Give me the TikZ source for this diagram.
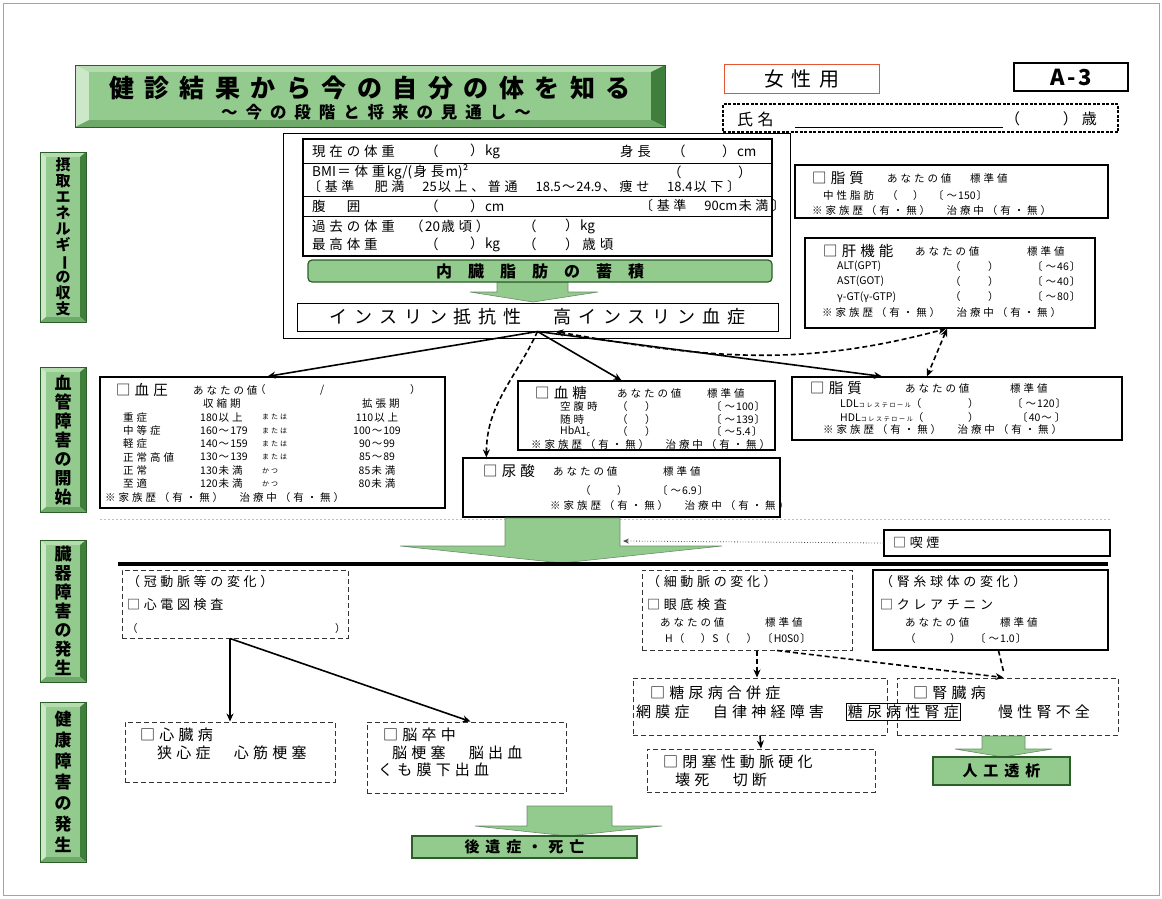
\documentclass[tikz,border=0pt]{standalone}
\usepackage{fontspec}
\usepackage{graphicx}
\setmainfont{Noto Sans CJK JP}
\usetikzlibrary{arrows.meta,fit,positioning}

% 和文字の間だけ字間をあける
\XeTeXinterchartokenstate=1
\chardef\cjkcls=7
\newcount\cjkcnt
\def\setcjk#1#2{\cjkcnt=#1\relax
  \loop\XeTeXcharclass\cjkcnt=\cjkcls\relax\advance\cjkcnt by 1\relax
  \ifnum\cjkcnt<#2\repeat}
\setcjk{"3000}{"3100}
\setcjk{"4E00}{"A000}
\setcjk{"FF01}{"FF61}
\XeTeXcharclass"25A1=\cjkcls
\XeTeXcharclass"203B=\cjkcls
\def\cjksp{0.28}
\XeTeXinterchartoks\cjkcls\cjkcls={\hskip\cjksp em\relax}
\XeTeXinterchartoks\cjkcls 0={\hskip0.1em\relax}
\XeTeXinterchartoks 0\cjkcls={\hskip0.1em\relax}

\definecolor{gfill}{HTML}{93CB8E}
\definecolor{gtop}{HTML}{B4DCAE}
\definecolor{glight}{HTML}{CDE8C8}
\definecolor{gmid}{HTML}{6FA96A}
\definecolor{gdark}{HTML}{3F7F3B}
\definecolor{gedge}{HTML}{2C5E2A}
\definecolor{femred}{HTML}{E4572E}

\newcommand{\famhist}{※家族歴（有・無）　治療中（有・無）}
\newcommand{\chol}{{\fontsize{6}{6}\selectfont コレステロール}}
\newcommand{\hba}{HbA1\raisebox{-2pt}{\fontsize{7}{7}\selectfont c}}

% 立体の緑の札
\newcommand{\bevel}[6]{%
  \fill[glight] (#1,#2) -- (#1+#5,#2+#6) -- (#1+#5,#4-#6) -- (#1,#4) -- cycle;
  \fill[gtop] (#1,#2) -- (#3,#2) -- (#3-#5,#2+#6) -- (#1+#5,#2+#6) -- cycle;
  \fill[gdark] (#3,#2) -- (#3,#4) -- (#3-#5,#4-#6) -- (#3-#5,#2+#6) -- cycle;
  \fill[gmid] (#1,#4) -- (#3,#4) -- (#3-#5,#4-#6) -- (#1+#5,#4-#6) -- cycle;
  \fill[gfill] (#1+#5,#2+#6) rectangle (#3-#5,#4-#6);
  \draw[gedge, line width=0.8pt] (#1,#2) rectangle (#3,#4);
}

\tikzset{
  box/.style={draw, line width=1pt, inner sep=0pt},
  dbox/.style={draw=black!80, line width=1pt, dash pattern=on 5pt off 3pt, inner sep=0pt},
  gbox/.style={draw=gedge, fill=gfill, line width=1.2pt, inner sep=0pt},
  t/.style={anchor=west, inner sep=0pt, font=\fontsize{10.5}{12}\selectfont},
  tc/.style={t, anchor=center},
  ts/.style={t, font=\fontsize{7}{8}\selectfont},
  tm/.style={t, font=\fontsize{13}{15}\selectfont},
  th/.style={t, font=\fontsize{14.5}{16}\selectfont},
  tb/.style={t, font=\fontsize{13.5}{15}\selectfont},
  tl/.style={t, font=\fontsize{15}{17}\selectfont},
  vlab/.style={align=center, inner sep=0pt},
  arr/.style={line width=1.6pt, -{Stealth[length=8pt,width=7pt]}},
  darr/.style={arr, dash pattern=on 5pt off 3pt},
  ddarr/.style={darr, {Stealth[length=8pt,width=7pt]}-{Stealth[length=8pt,width=7pt]}},
  dotarr/.style={black!70, line width=0.8pt, dotted, -{Stealth[length=6pt,width=5pt]}},
  garrow/.style={fill=gfill, draw=gedge!70, line width=0.6pt},
}

\begin{document}
\begin{tikzpicture}[x=1pt,y=-1pt]
\useasboundingbox (0,0) rectangle (1162,898);

% 外枠
\draw[gedge!50, line width=1pt] (3,3) rectangle (1159,895);

% タイトル
\bevel{75}{65}{665}{127}{14}{7}
\node[font=\def\cjksp{0.42}\fontsize{25}{28}\selectfont\bfseries] (ttl) at (370,88) {健診結果から今の自分の体を知る};
\node[font=\def\cjksp{0.48}\fontsize{16.5}{18}\selectfont\bfseries] (sub) at (376,112) {～今の段階と将来の見通し～};

% 右上の札
\node[draw=femred, line width=1.3pt, minimum width=155pt, minimum height=29pt, font=\def\cjksp{0.4}\fontsize{20}{22}\selectfont] (fem) at (802,79) {女性用};
\node[draw, line width=1.4pt, minimum width=114pt, minimum height=28pt, font=\fontsize{22}{24}\selectfont\bfseries\addfontfeature{LetterSpace=12}] (aid) at (1071,77) {A-3};
\node[draw, line width=2.5pt, dash pattern=on 3pt off 1.5pt, inner sep=0pt, fit={(723,104) (1118,132)}] (nm) {};
\node[t, font=\fontsize{16}{18}\selectfont] (nmA) at (737,119) {氏名};
\draw[line width=0.8pt] (795,127) -- (1003,127);
\node[t, font=\fontsize{15}{18}\selectfont] (nmB) at (1005,119) {（　　）歳};

% 左の見出し
\bevel{40}{152}{86}{322}{6}{5}
\bevel{40}{367}{86}{512}{6}{5}
\bevel{40}{540}{86}{682}{6}{5}
\bevel{40}{702}{86}{862}{6}{5}
\node[vlab, font=\fontsize{15}{16}\selectfont\bfseries] (secA) at (63,237) {摂\\取\\エ\\ネ\\ル\\ギ\\\rotatebox[origin=c]{-90}{ー}\\の\\収\\支};
\node[vlab, font=\fontsize{17}{19}\selectfont\bfseries] (secB) at (63,440) {血\\管\\障\\害\\の\\開\\始};
\node[vlab, font=\fontsize{17}{19}\selectfont\bfseries] (secC) at (63,611) {臓\\器\\障\\害\\の\\発\\生};
\node[vlab, font=\fontsize{17}{21}\selectfont\bfseries] (secD) at (63,782) {健\\康\\障\\害\\の\\発\\生};

% 体重・BMI
\node[box, line width=0.8pt, fit={(283,133) (790,338)}] (bmi) {};
\node[box, line width=2.6pt, fit={(303,139) (772,256)}] (body) {};
\foreach \yy in {163,196,216} \draw[line width=1pt] (303,\yy) -- (772,\yy);
\node[tb] (b1a) at (312,151) {現在の体重};
\node[tb] (b1b) at (425,151) {（};
\node[tb] (b1c) at (470,151) {）kg};
\node[tb] (b1d) at (620,151) {身長};
\node[tb] (b1e) at (672,151) {（};
\node[tb] (b1f) at (722,151) {）cm};
\node[tb] (b2a) at (312,172) {BMI＝体重kg/(身長m)²};
\node[tb] (b2b) at (668,172) {（};
\node[tb] (b2c) at (738,172) {）};
\node[t, font=\fontsize{13}{14}\selectfont] (b2d) at (308,187) {〔基準　肥満　25以上、普通　18.5～24.9、痩せ　18.4以下〕};
\node[tb] (b3a) at (312,206) {腹　囲};
\node[tb] (b3b) at (425,206) {（};
\node[tb] (b3c) at (470,206) {）cm};
\node[t, font=\fontsize{13}{14}\selectfont] (b3d) at (640,206) {〔基準　90cm未満〕};
\node[tb] (b4a) at (312,226) {過去の体重};
\node[tb] (b4b) at (410,226) {（20歳頃）};
\node[tb] (b4c) at (523,226) {（};
\node[tb] (b4d) at (565,226) {）kg};
\node[tb] (b5a) at (312,244) {最高体重};
\node[tb] (b5b) at (425,244) {（};
\node[tb] (b5c) at (470,244) {）kg};
\node[tb] (b5d) at (523,244) {（};
\node[tb] (b5e) at (565,244) {）歳頃};

\fill[garrow] (497,282) -- (568,282) -- (568,292) -- (598,292) -- (533,302) -- (470,292) -- (497,292) -- cycle;
\node[gbox, rounded corners=4pt, fit={(308,260) (772,282)}] (fat) {};
\node[font=\def\cjksp{1.0}\fontsize{16}{18}\selectfont\bfseries] (fatT) at (fat.center) {内臓脂肪の蓄積};
\node[box, fit={(297,303) (778,331)}] (ins) {};
\node[font=\def\cjksp{0.38}\fontsize{18}{20}\selectfont] (insT) at (ins.center) {インスリン抵抗性　高インスリン血症};

% 脂質（中性脂肪）
\node[box, line width=1.5pt, fit={(795,165) (1108,218)}] (lipA) {};
\node[th] (laH) at (812,178) {□脂質};
\node[t] (laV) at (887,178) {あなたの値};
\node[t] (laS) at (970,178) {標準値};
\node[t] (la1) at (823,196) {中性脂肪};
\node[t] (la2) at (887,196) {（};
\node[t] (la3) at (913,196) {）};
\node[t] (la4) at (933,196) {〔～150〕};
\node[t] (la5) at (812,211) {\famhist};

% 肝機能
\node[box, line width=1.5pt, fit={(805,238) (1095,328)}] (liv) {};
\node[th] (lvH) at (823,251) {□肝機能};
\node[t] (lvV) at (915,251) {あなたの値};
\node[t] (lvS) at (1027,251) {標準値};
\foreach \lab/\std [count=\i] in {ALT(GPT)/〔～46〕, AST(GOT)/〔～40〕, γ-GT(γ-GTP)/〔～80〕}{
  \pgfmathsetmacro{\yy}{251+15.3*\i}
  \node[t] (lvL\i) at (837,\yy) {\lab};
  \node[t] (lvA\i) at (950,\yy) {（};
  \node[t] (lvB\i) at (988,\yy) {）};
  \node[t] (lvC\i) at (1032,\yy) {\std};
}
\node[t] (lvF) at (822,313) {\famhist};

% 血圧
\node[box, line width=1.2pt, fit={(100,377) (445,508)}] (bp) {};
\node[th] (bpH) at (116,390) {□血圧};
\node[t] (bpV) at (193,390) {あなたの値};
\node[t] (bpA) at (255,390) {（};
\node[t] (bpB) at (320,390) {/};
\node[t] (bpC) at (410,390) {）};
\node[t] (bpS) at (203,404) {収縮期};
\node[t] (bpD) at (362,404) {拡張期};
\foreach \lab/\sys/\cj/\dia [count=\i] in {重症/180以上/または/110以上, 中等症/160～179/または/100～109, 軽症/140～159/または/90～99, 正常高値/130～139/または/85～89, 正常/130未満/かつ/85未満, 至適/120未満/かつ/80未満}{
  \pgfmathsetmacro{\yy}{404+13.3*\i}
  \node[t] (bpL\i) at (123,\yy) {\lab};
  \node[t] (bpN\i) at (200,\yy) {\sys};
  \node[ts] (bpJ\i) at (262,\yy) {\cj};
  \node[tc] (bpR\i) at (377,\yy) {\dia};
}
\node[t] (bpF) at (105,497) {\famhist};

% 血糖
\node[box, line width=1.2pt, fit={(518,381) (775,450)}] (glu) {};
\node[th] (glH) at (535,393) {□血糖};
\node[t] (glV) at (617,393) {あなたの値};
\node[t] (glS) at (707,393) {標準値};
\foreach \lab/\std [count=\i] in {空腹時/〔～100〕, 随時/〔～139〕, \hba/〔～5.4〕}{
  \pgfmathsetmacro{\yy}{394+12.6*\i}
  \node[t] (glL\i) at (560,\yy) {\lab};
  \node[t] (glA\i) at (617,\yy) {（};
  \node[t] (glB\i) at (645,\yy) {）};
  \node[t] (glC\i) at (711,\yy) {\std};
}
\node[t] (glF) at (531,444) {\famhist};

% 尿酸
\node[box, line width=1.2pt, fit={(463,458) (780,517)}] (uric) {};
\node[th] (urH) at (483,471) {□尿酸};
\node[t] (urV) at (553,471) {あなたの値};
\node[t] (urS) at (663,471) {標準値};
\node[t] (urA) at (580,490) {（};
\node[t] (urB) at (617,490) {）};
\node[t] (urC) at (657,490) {〔～6.9〕};
\node[t] (urF) at (550,505) {\famhist};

% 脂質（コレステロール）
\node[box, line width=1.2pt, fit={(792,377) (1122,440)}] (lipB) {};
\node[th] (lbH) at (810,388) {□脂質};
\node[t] (lbV) at (905,388) {あなたの値};
\node[t] (lbS) at (1010,388) {標準値};
\node[t] (lb1) at (840,403) {LDL\chol（};
\node[t] (lb2) at (968,403) {）};
\node[t] (lb3) at (1012,403) {〔～120〕};
\node[t] (lb4) at (840,417) {HDL\chol（};
\node[t] (lb5) at (968,417) {）};
\node[t] (lb6) at (1017,417) {〔40～〕};
\node[t] (lbF) at (823,430) {\famhist};

% インスリンからの矢印
\draw[arr] (ins.south) -- ([xshift=-5pt]bp.north);
\draw[arr] (ins.south) -- ([xshift=-25pt]glu.north);
\draw[arr] (ins.south) -- ([xshift=-75pt]lipB.north);
\draw[darr] (ins.south) to[out=-115,in=90] ([xshift=24pt]uric.north west);
\draw[ddarr] ([xshift=18pt]ins.south) to[out=-10,in=-165] ([xshift=-4pt]liv.south);
\draw[ddarr] ([xshift=-3pt]liv.south) -- ([xshift=-30pt]lipB.north);

% 中段の大きな矢印
\draw[black!25, dash pattern=on 2pt off 2pt, line width=0.6pt] (100,519) -- (1110,519);
\fill[garrow] (505,518) -- (620,518) -- (620,546) -- (722,546) -- (562,563) -- (400,546) -- (505,546) -- cycle;
\coordinate (bigR) at (623,541);
\node[box, line width=1.2pt, fit={(884,530) (1110,556)}] (smk) {};
\node[tm] (smT) at (893,543) {□喫煙};
\draw[dotarr] (smk.west) -- (bigR);
\draw[line width=4pt] (118,564) -- (1108,564);

% 臓器障害
\node[dbox, fit={(122,570) (348,638)}] (cor) {};
\node[tm] (coA) at (127,582) {（冠動脈等の変化）};
\node[tm] (coB) at (127,605) {□心電図検査};
\node[t] (coC) at (127,628) {（};
\node[t] (coD) at (335,628) {）};

\node[dbox, fit={(642,570) (852,650)}] (sai) {};
\node[tm] (saA) at (647,582) {（細動脈の変化）};
\node[tm] (saB) at (647,605) {□眼底検査};
\node[t] (saC) at (660,622) {あなたの値};
\node[t] (saD) at (765,622) {標準値};
\node[t] (saE) at (665,638) {H（　）S（　）};
\node[t] (saF) at (762,638) {〔H0S0〕};

\node[box, line width=1.2pt, fit={(873,570) (1108,650)}] (kre) {};
\node[tm] (krA) at (880,582) {（腎糸球体の変化）};
\node[tm] (krB) at (880,605) {□クレアチニン};
\node[t] (krC) at (905,622) {あなたの値};
\node[t] (krD) at (1000,622) {標準値};
\node[t] (krE) at (905,638) {（};
\node[t] (krF) at (950,638) {）};
\node[t] (krG) at (975,638) {〔～1.0〕};

% 健康障害
\node[dbox, fit={(125,722) (335,782)}] (hrt) {};
\node[tl] (hrA) at (140,735) {□心臓病};
\node[tl] (hrB) at (157,753) {狭心症　心筋梗塞};

\node[dbox, fit={(367,722) (566,793)}] (stk) {};
\node[tl] (stA) at (383,735) {□脳卒中};
\node[tl] (stB) at (392,753) {脳梗塞　脳出血};
\node[tl] (stC) at (378,770) {くも膜下出血};

\node[dbox, fit={(633,678) (887,735)}] (dmc) {};
\node[tl] (dmA) at (650,693) {□糖尿病合併症};
\node[tl] (dmB) at (636,712) {網膜症　自律神経障害};

\node[dbox, fit={(897,678) (1118,735)}] (kid) {};
\node[tl] (kdA) at (913,693) {□腎臓病};
\node[tl] (kdB) at (998,712) {慢性腎不全};
\node[tl, draw, line width=0.8pt, inner sep=1.5pt] (dnp) at (846,712) {糖尿病性腎症};

\node[dbox, fit={(647,749) (875,792)}] (hei) {};
\node[tl] (heA) at (663,762) {□閉塞性動脈硬化};
\node[tl] (heB) at (675,780) {壊死　切断};

\fill[garrow] (982,736) -- (1025,736) -- (1025,749) -- (1052,749) -- (1003,757) -- (955,749) -- (982,749) -- cycle;
\node[gbox, fit={(933,757) (1070,785)}] (dia) {};
\node[font=\def\cjksp{0.4}\fontsize{15}{17}\selectfont\bfseries] (diaT) at (dia.center) {人工透析};

\fill[garrow] (527,806) -- (612,806) -- (612,826) -- (662,826) -- (568,836) -- (475,826) -- (527,826) -- cycle;
\node[gbox, fit={(412,836) (637,858)}] (seq) {};
\node[font=\def\cjksp{0.4}\fontsize{15}{17}\selectfont\bfseries] (seqT) at (seq.center) {後遺症・死亡};

% 下段の矢印
\draw[arr] ([xshift=-5pt]cor.south) -- (hrt.north);
\draw[arr] ([xshift=-5pt]cor.south) -- ([xshift=4pt]stk.north);
\draw[darr] ([xshift=10pt]sai.south) -- ([xshift=-3pt]dmc.north);
\draw[darr] ([xshift=30pt]sai.south) -- ([xshift=-4pt]kid.north);
\draw[line width=1.6pt, dash pattern=on 5pt off 3pt] ([xshift=8pt]kre.south) -- ([xshift=-4pt,yshift=6pt]kid.north);
\draw[arr] (dmc.south) -- (hei.north);
\end{tikzpicture}
\end{document}
